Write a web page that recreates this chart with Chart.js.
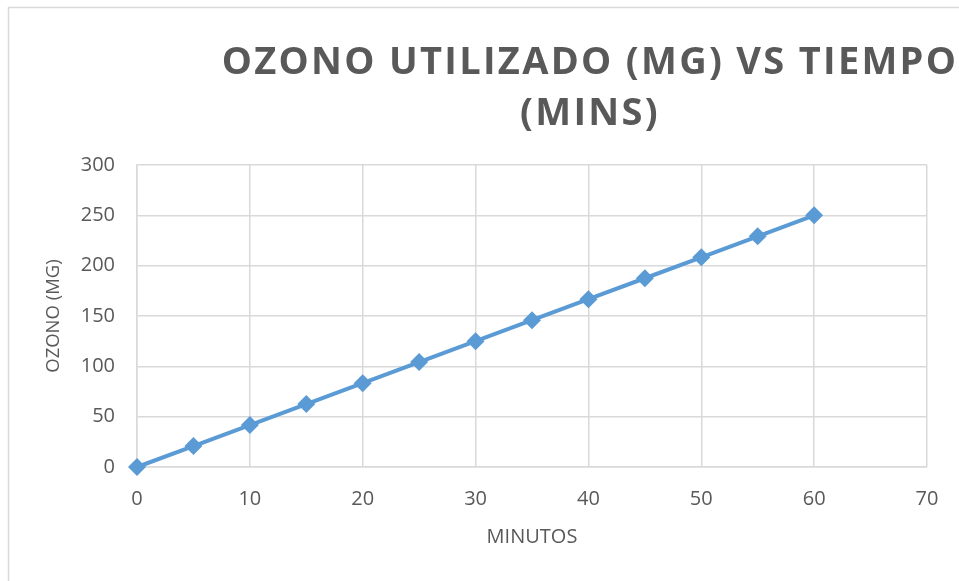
<!DOCTYPE html>
<html>
<head>
<meta charset="utf-8">
<script src="https://cdn.jsdelivr.net/npm/chart.js@4/dist/chart.umd.min.js"></script>
<style>
  html, body { margin: 0; padding: 0; background: #fff; }
  #wrap { position: relative; width: 959px; height: 581px; }
</style>
</head>
<body>
<div id="wrap"><canvas id="c" width="959" height="581"></canvas></div>
<script>
// ---- data ----
const minutos = [0, 5, 10, 15, 20, 25, 30, 35, 40, 45, 50, 55, 60];
const ozono = [0, 20.8, 41.7, 62.5, 83.3, 104.2, 125, 145.8, 166.7, 187.5, 208.3, 229.2, 250];
const titleLines = ["OZONO UTILIZADO (MG) VS TIEMPO", "(MINS)"];
const xTitle = "MINUTOS";
const yTitle = "OZONO (MG)";

const GRID = '#d9d9d9';
const TEXT = '#595959';
const FONT = "'Open Sans', sans-serif";

const framePlugin = {
  id: 'frameAndTitle',
  afterDraw(chart) {
    const ctx = chart.ctx;
    ctx.save();
    ctx.strokeStyle = GRID;
    ctx.lineWidth = 1.5;
    ctx.beginPath();
    ctx.moveTo(8.5, 600);
    ctx.lineTo(8.5, 7.5);
    ctx.lineTo(1000, 7.5);
    ctx.stroke();
    ctx.fillStyle = TEXT;
    ctx.font = "bold 38px " + FONT;
    ctx.letterSpacing = '2.3px';
    ctx.textAlign = 'center';
    ctx.textBaseline = 'alphabetic';
    const cx = 590;
    ctx.fillText(titleLines[0], cx, 74);
    ctx.fillText(titleLines[1], cx, 125);
    ctx.restore();
  }
};

new Chart(document.getElementById('c'), {
  type: 'line',
  data: {
    datasets: [{
      data: minutos.map((m, i) => ({ x: m, y: ozono[i] })),
      borderColor: '#5b9bd5',
      backgroundColor: '#5b9bd5',
      borderWidth: 4,
      pointStyle: 'rectRot',
      pointRadius: 9,
      pointHoverRadius: 9,
      pointBorderWidth: 0,
      tension: 0,
      clip: false
    }]
  },
  options: {
    responsive: false,
    animation: false,
    layout: { padding: { left: 43, top: 165, right: 32, bottom: 28 } },
    plugins: { legend: { display: false }, tooltip: { enabled: false } },
    scales: {
      x: {
        type: 'linear',
        min: 0, max: 70,
        afterFit(s) { s.height = 581 - 467 - 28; },
        ticks: { stepSize: 10, color: TEXT, padding: 20, font: { family: FONT, size: 20 } },
        grid: { color: GRID, lineWidth: 1.5, drawTicks: false },
        border: { color: GRID, width: 1.5 },
        title: { display: true, text: xTitle, color: TEXT, font: { family: FONT, size: 20 }, padding: { top: 0, bottom: 4 } }
      },
      y: {
        min: 0, max: 300,
        afterFit(s) { s.width = 137 - 43; },
        ticks: { stepSize: 50, color: TEXT, padding: 22, font: { family: FONT, size: 20 } },
        grid: { color: GRID, lineWidth: 1.5, drawTicks: false },
        border: { color: GRID, width: 1.5 },
        title: { display: true, text: yTitle, color: TEXT, font: { family: FONT, size: 18.5 }, padding: { top: 0, bottom: 0 } }
      }
    }
  },
  plugins: [framePlugin]
});
</script>
</body>
</html>
